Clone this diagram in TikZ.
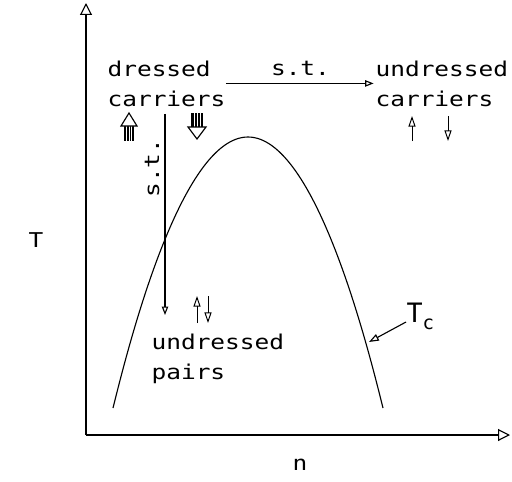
\documentclass[tikz,border=0pt]{standalone}
\usepackage{fontspec}
\setmonofont[FakeStretch=1.2]{DejaVu Sans Mono}
\newfontfamily\tcfont{DejaVu Sans Mono}
\usetikzlibrary{arrows.meta}

\begin{document}
\begin{tikzpicture}[x=0.025cm, y=-0.025cm, line width=0.8pt]
    \tikzstyle{lbl} = [font=\ttfamily\fontsize{14.5}{21.3}\selectfont, inner sep=0pt, align=left]
    \tikzstyle{axis} = [-{Triangle[open, length=8.5pt, width=8.5pt]}]
    \tikzstyle{st} = [-{Triangle[open, length=6pt, width=4.5pt]}]
    \tikzstyle{spin} = [line width=0.7pt, -{Triangle[open, length=7.5pt, width=5pt]}]

    \useasboundingbox (0,0) rectangle (512,481);

    % axes
    \coordinate (O) at (86,435);
    \coordinate (ytop) at (86,3);
    \coordinate (xend) at (510,435);
    \draw[axis] (O) -- (ytop);
    \draw[axis] (O) -- (xend);
    \node[lbl] (tlab) at (36,240) {T};
    \node[lbl] (nlab) at (300,465) {n};

    % T_c curve
    \draw (113,408) parabola bend (248,137) (383,408);

    % carriers and pairs
    \node[lbl, anchor=north west] (dressed) at (107,60) {dressed\\carriers};
    \node[lbl, anchor=north west] (ucarr) at (375,60) {undressed\\carriers};
    \node[lbl, anchor=north west] (upairs) at (151,333) {undressed\\pairs};

    \draw[st, shorten >=1pt] (dressed.east) -- node[lbl, above=5pt] (st1) {s.t.} (ucarr.west);

    \coordinate (stend) at (165,315);
    \draw[st, shorten <=5pt] (dressed.south -| stend) -- (stend);
    \node[lbl, rotate=90, anchor=south] (st2) at (160,168) {s.t.};

    % thick spins, dressed carriers
    \fill (124,126) rectangle (134,141);
    \draw[white, line width=0.3pt] (126.5,126) -- (126.5,141) (129,126) -- (129,141) (131.5,126) -- (131.5,141);
    \draw[fill=white] (121,126) -- (137,126) -- (129,113) -- cycle;
    \fill (191,113) rectangle (203,127);
    \draw[white, line width=0.3pt] (194,113) -- (194,127) (197,113) -- (197,127) (200,113) -- (200,127);
    \draw[fill=white] (188,127) -- (206,127) -- (197,139) -- cycle;

    % thin spins, undressed carriers
    \draw[spin] (412,141) -- (412,116);
    \draw[spin] (448,116) -- (448,141);

    % pair spins
    \draw[spin] (197,323) -- (197,296);
    \draw[spin] (208,296) -- (208,323);

    % T_c label
    \node[anchor=base west, inner sep=0pt] (tc) at (406,322)
        {\tcfont\fontsize{19}{20}\selectfont T\fontsize{13.5}{14}\selectfont\raisebox{-5.5pt}{c}};
    \coordinate (tcend) at (369,342);
    \draw[-{Triangle[open, length=7pt, width=5pt]}] (tc.base west) -- (tcend);
\end{tikzpicture}
\end{document}
